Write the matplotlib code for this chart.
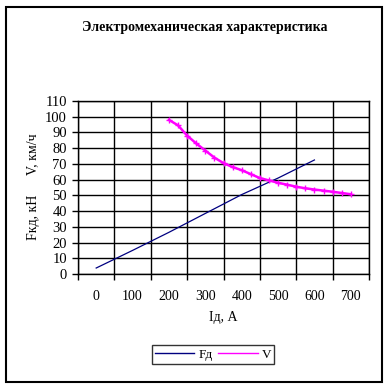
import matplotlib
matplotlib.use("Agg")
import matplotlib.pyplot as plt
from matplotlib.patches import Rectangle
from matplotlib.ticker import MultipleLocator, FixedLocator

# Data
fd_current = [0, 100, 200, 300, 400, 500, 600]
fd_force = [3.8, 15, 26.5, 38.5, 50.5, 61, 72.5]

v_current = [200, 225, 250, 275, 300, 325, 350, 375, 400, 425, 450, 475,
             500, 525, 550, 575, 600, 625, 650, 675, 700]
v_speed = [98, 94.5, 88, 83, 78.5, 74, 70.5, 68, 66, 63.5, 61, 59.5,
           58, 56.8, 55.5, 54.5, 53.7, 53, 52.3, 51.5, 50.7]

x_tick_labels = [0, 100, 200, 300, 400, 500, 600, 700]
title = "Электромеханическая характеристика"
xlabel = "Iд, А"
ylabel_top = "V, км/ч"
ylabel_bottom = "Fкд, кН"

plt.rcParams['font.family'] = ['Liberation Serif', 'DejaVu Serif']

W = H = 389
fig = plt.figure(figsize=(W / 100, H / 100), dpi=100)
fig.patch.set_facecolor('white')

# outer border
fig.patches.append(Rectangle((6 / W, 7 / H), 376 / W, 375 / H, transform=fig.transFigure,
                             fill=False, edgecolor='black', linewidth=1.5))

ax = fig.add_axes([78 / W, 1 - 274 / H, (369 - 78) / W, (274 - 101) / H])

ax.plot(fd_current, fd_force, color='#000080', lw=0.9, label='Fд')
ax.plot(v_current, v_speed, color='#FF00FF', lw=1.8, marker='+', markersize=4,
        markeredgewidth=1.0, label='V')

ax.set_xlim(-50, 750)
ax.set_ylim(0, 110)
ax.xaxis.set_major_locator(FixedLocator(x_tick_labels))
ax.set_xticklabels([str(v) for v in x_tick_labels])
ax.xaxis.set_minor_locator(FixedLocator([-50 + 100 * i for i in range(9)]))
ax.yaxis.set_major_locator(MultipleLocator(10))

ax.tick_params(axis='x', which='major', length=0, labelsize=10, pad=11.5)
ax.tick_params(axis='x', which='minor', length=4, width=1, direction='out')
ax.tick_params(axis='y', which='major', length=4, width=1, direction='out', labelsize=10.5, pad=4)

ax.grid(True, axis='x', which='minor', color='black', lw=1)
ax.grid(True, axis='y', which='major', color='black', lw=1)
for s in ax.spines.values():
    s.set_color('black')
    s.set_linewidth(1)

fig.text(205 / W, 1 - 28 / H, title, ha='center', va='center', fontsize=10, fontweight='bold')
fig.text(223 / W, 1 - 318 / H, xlabel, ha='center', va='center', fontsize=10)
fig.text(33 / W, 1 - 154 / H, ylabel_top, ha='center', va='center', rotation=90, fontsize=10)
fig.text(33 / W, 1 - 217.5 / H, ylabel_bottom, ha='center', va='center', rotation=90, fontsize=10)

leg = fig.legend(loc='center', bbox_to_anchor=(213 / W, 1 - 354.5 / H), ncol=2,
                 fontsize=9.5, frameon=True, fancybox=False, edgecolor='black',
                 handlelength=3.0, handletextpad=0.3, columnspacing=0.4,
                 borderpad=0.25, borderaxespad=0)
leg.get_frame().set_linewidth(1)
for h in leg.legend_handles:
    h.set_marker('')
    h.set_linewidth(1)

fig.savefig('out.png', dpi=100, facecolor='white')
